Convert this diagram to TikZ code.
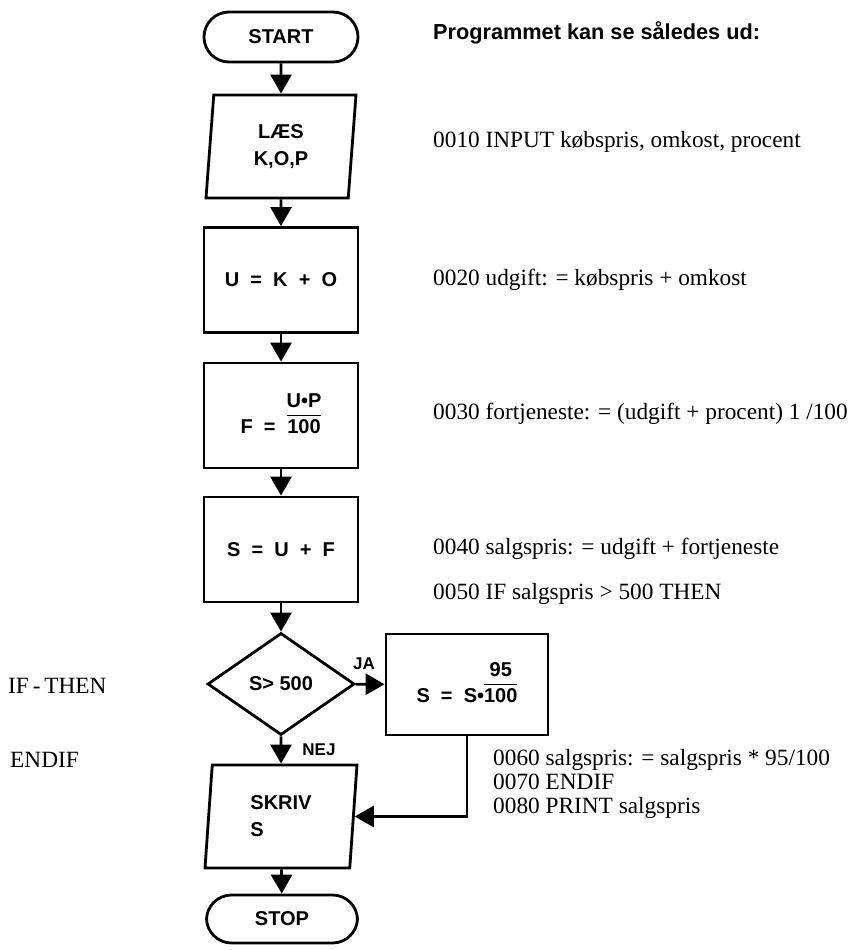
\documentclass[tikz,border=0pt]{standalone}
\usepackage{fontspec}
\setmainfont{Liberation Serif}
\setsansfont{Liberation Sans}
\usetikzlibrary{shapes.geometric,arrows.meta}

\newcommand{\vfrac}[2]{{\setlength{\arrayrulewidth}{1.8pt}\renewcommand{\arraystretch}{0.9}%
  \begin{tabular}[b]{@{}c@{}}#1\\\hline #2\end{tabular}}}

\tikzset{
  chart/.style={draw, line width=2.8pt, align=center, inner sep=0pt,
    font=\sffamily\bfseries\fontsize{20}{27}\selectfont},
  terminal/.style={chart, rectangle, rounded corners=25pt, minimum width=154pt, minimum height=50pt},
  proc/.style={chart, rectangle, minimum width=154pt, minimum height=105pt},
  io/.style={chart, trapezium, trapezium left angle=80, trapezium right angle=100,
    trapezium stretches body, minimum width=150pt, minimum height=103pt},
  decision/.style={chart, diamond, minimum width=147pt, minimum height=102pt},
  flow/.style={-{Triangle[width=21pt,length=19pt]}, line width=2.8pt},
  tag/.style={font=\sffamily\bfseries\fontsize{17}{19}\selectfont, inner sep=0pt},
  code/.style={anchor=base west, inner sep=0pt, font=\fontsize{23.3}{26}\selectfont}
}

\begin{document}
\begin{tikzpicture}[x=1pt,y=-1pt]
  \useasboundingbox[fill=white] (0,0) rectangle (859,950);
  % flowchart
  \node[terminal] (start) at (281,37) {START};
  \node[io] (laes) at (281,146.5) {LÆS\\K,O,P};
  \node[proc] (udgift) at (281,280) {U~ = ~K~ + ~O};
  \node[proc] (fortj) at (281,415.5) {F~ = ~\vfrac{U•P}{100}};
  \node[proc] (salg) at (281,549.5) {S~ = ~U~ + ~F};
  \node[decision] (test) at (281,684) {S> 500};
  \node[proc, minimum width=162pt, minimum height=101pt] (rabat) at (467,684.5) {S~ = ~S•\vfrac{95}{100}};
  \node[io, align=left, minimum width=152pt] (skriv) at (281,816.5) {SKRIV\\S};
  \node[terminal, minimum width=151pt, minimum height=48pt] (stop) at (282,919) {STOP};
  \node[tag] (ja) at (364,664) {JA};
  \node[tag] (nej) at (319,750) {NEJ};
  \begin{scope}[flow]
    \draw (start) -- (laes);
    \draw (laes) -- (udgift);
    \draw (udgift) -- (fortj);
    \draw (fortj) -- (salg);
    \draw (salg) -- (test);
    \draw (test) -- (rabat);
    \draw (test) -- (skriv);
    \draw (rabat.south) |- (skriv.east);
    \draw (skriv) -- (stop);
  \end{scope}
  % program text
  \node[anchor=base west, inner sep=0pt, font=\sffamily\bfseries\fontsize{21.7}{24}\selectfont]
    (head) at (433,40) {Programmet kan se således ud:};
  \node[code] (l10) at (433,147) {0010 INPUT købspris, omkost, procent};
  \node[code] (l20) at (433,285) {0020 udgift: = købspris + omkost};
  \node[code] (l30) at (433,419) {0030 fortjeneste: = (udgift + procent) 1 /100};
  \node[code] (l40) at (433,554) {0040 salgspris: = udgift + fortjeneste};
  \node[code] (l50) at (433,599) {0050 IF salgspris > 500 THEN};
  \node[code] (l60) at (493,765) {0060 salgspris: = salgspris * 95/100};
  \node[code] (l70) at (493,789) {0070 ENDIF};
  \node[code] (l80) at (493,813) {0080 PRINT salgspris};
  \node[code] (ifthen) at (8,693) {IF\,-\,THEN};
  \node[code] (endif) at (10,767) {ENDIF};
\end{tikzpicture}
\end{document}
